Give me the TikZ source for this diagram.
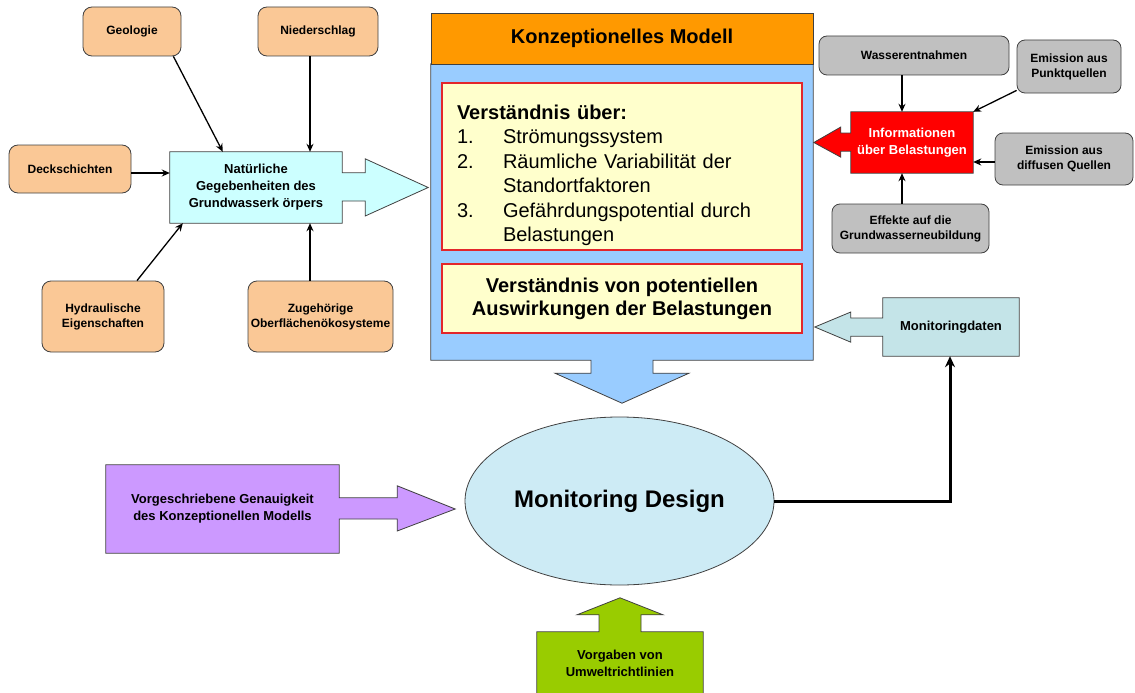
\documentclass[tikz,border=0pt]{standalone}
\usepackage{fontspec}
\setmainfont{Liberation Sans}
\usetikzlibrary{arrows.meta, positioning, shapes.geometric}

\definecolor{peach}{HTML}{FAC896}
\definecolor{natcyan}{HTML}{CCFFFF}
\definecolor{headorange}{HTML}{FF9900}
\definecolor{bodyblue}{HTML}{99CCFF}
\definecolor{cream}{HTML}{FFFFCC}
\definecolor{framered}{HTML}{E3262B}
\definecolor{infored}{HTML}{FF0000}
\definecolor{greybox}{HTML}{C0C0C0}
\definecolor{datateal}{HTML}{C4E4E8}
\definecolor{designblue}{HTML}{CDEBF5}
\definecolor{lilac}{HTML}{CC99FF}
\definecolor{lime}{HTML}{99CC00}

\pgfdeclarelayer{background}
\pgfsetlayers{background,main}

\begin{document}
\begin{tikzpicture}[x=1pt, y=-1pt,
    factor/.style={draw=black!75, fill=peach, line width=0.8pt, rounded corners=9pt,
      inner sep=0pt, align=center, font=\fontsize{12}{15}\selectfont\bfseries},
    pressure/.style={draw=black!75, fill=greybox, line width=0.8pt, rounded corners=8pt,
      inner sep=0pt, align=center, font=\fontsize{12}{15}\selectfont\bfseries},
    textbox/.style={inner sep=0pt, align=center, font=\fontsize{13}{17}\selectfont\bfseries},
    insight/.style={draw=framered, fill=cream, line width=1.6pt, inner sep=0pt},
    outline/.style={draw=black!75, line width=0.8pt},
    feed/.style={-{Stealth[length=8pt, width=7pt]}, line width=1.3pt},
  ]
    \useasboundingbox (0,0) rectangle (1135,693);

    % Nodes
    \node[factor, minimum width=98pt, minimum height=49pt] (geo) at (132,31.5) {Geologie};
    \node[factor, minimum width=120pt, minimum height=49pt] (nied) at (318,31.5) {Niederschlag};
    \node[factor, minimum width=122pt, minimum height=48pt] (deck) at (70,169) {Deckschichten};
    \node[factor, minimum width=122pt, minimum height=71pt] (hyd) at (103,316.5) {Hydraulische\\Eigenschaften};
    \node[factor, minimum width=145pt, minimum height=71pt] (zug) at (320.5,316.5) {Zugehörige\\Oberflächenökosysteme};
    \node[textbox, minimum width=172pt, minimum height=71pt] (nat) at (256,187.5) {Natürliche\\Gegebenheiten des\\Grundwasserk örpers};

    \node[minimum width=382pt, minimum height=296pt, inner sep=0pt] (modell) at (622,212) {};
    \node[outline, fill=headorange, minimum width=382pt, minimum height=51pt, inner sep=0pt,
      font=\fontsize{20}{24}\selectfont\bfseries] (kopf) at (622,38.5) {Konzeptionelles Modell};
    \node[insight, minimum width=360pt, minimum height=167pt, text width=330pt, align=left,
      font=\fontsize{20}{24.5}\selectfont] (verst) at (622,166.5)
      {\rule{0pt}{32pt}\textbf{Verständnis über:}\\
       \makebox[46pt][l]{1.}Strömungssystem\\
       \makebox[46pt][l]{2.}Räumliche Variabilität der\\
       \hspace*{46pt}Standortfaktoren\\
       \makebox[46pt][l]{3.}Gefährdungspotential durch\\
       \hspace*{46pt}Belastungen};
    \node[insight, minimum width=360pt, minimum height=69pt, align=center,
      font=\fontsize{20}{23}\selectfont\bfseries] (wirk) at (622,298.5)
      {Verständnis von potentiellen\\Auswirkungen der Belastungen};

    \node[textbox, text=white, minimum width=122pt, minimum height=61pt] (info) at (912,142.5) {Informationen\\über Belastungen};
    \node[pressure, minimum width=190pt, minimum height=39pt] (wasser) at (914,55.5) {Wasserentnahmen};
    \node[pressure, minimum width=104pt, minimum height=53pt] (punkt) at (1069,66.5) {Emission aus\\Punktquellen};
    \node[pressure, minimum width=138pt, minimum height=52pt] (diffus) at (1064,159) {Emission aus\\diffusen Quellen};
    \node[pressure, minimum width=157pt, minimum height=49pt] (effekt) at (910.5,228.5) {Effekte auf die\\Grundwasserneubildung};

    \node[textbox, minimum width=136pt, minimum height=58pt] (mdaten) at (951,327) {Monitoringdaten};
    \node[ellipse, outline, fill=designblue, minimum width=309pt, minimum height=168pt, inner sep=0pt,
      font=\fontsize{24}{28}\selectfont\bfseries] (design) at (619.5,501) {Monitoring Design};
    \node[textbox, minimum width=233pt, minimum height=88pt] (vorg) at (222.5,509) {Vorgeschriebene Genauigkeit\\des Konzeptionellen Modells};
    \node[textbox, minimum width=166pt, minimum height=63pt] (vorgaben) at (620,663.5) {Vorgaben von\\Umweltrichtlinien};

    % Block arrows
    \begin{pgfonlayer}{background}
      \draw[outline, fill=natcyan] (nat.north west) -- (nat.north east) -- ++(0,21) -- ++(23,0) -- ++(0,-14)
        -- ([xshift=86pt]nat.east) -- ++(-63,28.5) -- ++(0,-15) -- ++(-23,0)
        -- (nat.south east) -- (nat.south west) -- cycle;
      \draw[outline, fill=bodyblue] (modell.north west) -- (modell.north east) -- (modell.south east)
        -- ([xshift=31pt]modell.south) -- ++(0,13) -- ++(36,0) -- ([yshift=-43pt]modell.south)
        -- ++(-67,-30) -- ++(36,0) -- ++(0,-13) -- (modell.south west) -- cycle;
      \draw[outline, fill=infored] (info.north west) -- (info.north east) -- (info.south east) -- (info.south west)
        -- ++(0,-22) -- ++(-10,0) -- ++(0,6) -- ([xshift=-37pt]info.west)
        -- ++(27,-15.5) -- ++(0,6) -- ++(10,0) -- cycle;
      \draw[outline, fill=datateal] (mdaten.north west) -- (mdaten.north east) -- (mdaten.south east) -- (mdaten.south west)
        -- ++(0,-20) -- ++(-32,0) -- ++(0,6) -- ([xshift=-68pt]mdaten.west)
        -- ++(36,-15) -- ++(0,6) -- ++(32,0) -- cycle;
      \draw[outline, fill=lilac] (vorg.north west) -- (vorg.north east) -- ++(0,33) -- ++(58,0) -- ++(0,-12)
        -- ([xshift=116pt]vorg.east) -- ++(-58,22) -- ++(0,-12) -- ++(-58,0)
        -- (vorg.south east) -- (vorg.south west) -- cycle;
      \draw[outline, fill=lime] (vorgaben.south west) -- (vorgaben.north west) -- ([xshift=-21pt]vorgaben.north)
        -- ++(0,-17) -- ++(-22,0) -- ([yshift=34pt]vorgaben.north) -- ++(43,17) -- ++(-22,0) -- ++(0,17)
        -- (vorgaben.north east) -- (vorgaben.south east) -- cycle;
    \end{pgfonlayer}

    % Arrows
    \draw[feed] ([xshift=-8pt]geo.south east) -- ([xshift=53pt]nat.north west);
    \draw[feed] ([xshift=-8pt]nied.south) -- ([xshift=-8pt]nied.south |- nat.north);
    \draw[feed] ([yshift=-4pt]deck.east) -- ([yshift=-4pt]deck.east -| nat.west);
    \draw[feed] ([xshift=34pt]hyd.north) -- ([xshift=13pt]nat.south west);
    \draw[feed] ([xshift=-10.5pt]zug.north) -- ([xshift=-10.5pt]zug.north |- nat.south);
    \draw[feed] ([xshift=-10pt]info.north |- wasser.south) -- ([xshift=-10pt]info.north);
    \draw[feed] ([yshift=3pt]punkt.south west) -- (info.north east);
    \draw[feed] ([yshift=-3pt]diffus.west) -- ([yshift=-3pt]diffus.west -| info.east);
    \draw[feed] ([xshift=-10pt]info.south |- effekt.north) -- ([xshift=-10pt]info.south);
    \draw[-{Stealth[length=11pt, width=10pt]}, line width=3pt] (design.east) -| ([xshift=-1pt]mdaten.south);
\end{tikzpicture}
\end{document}
